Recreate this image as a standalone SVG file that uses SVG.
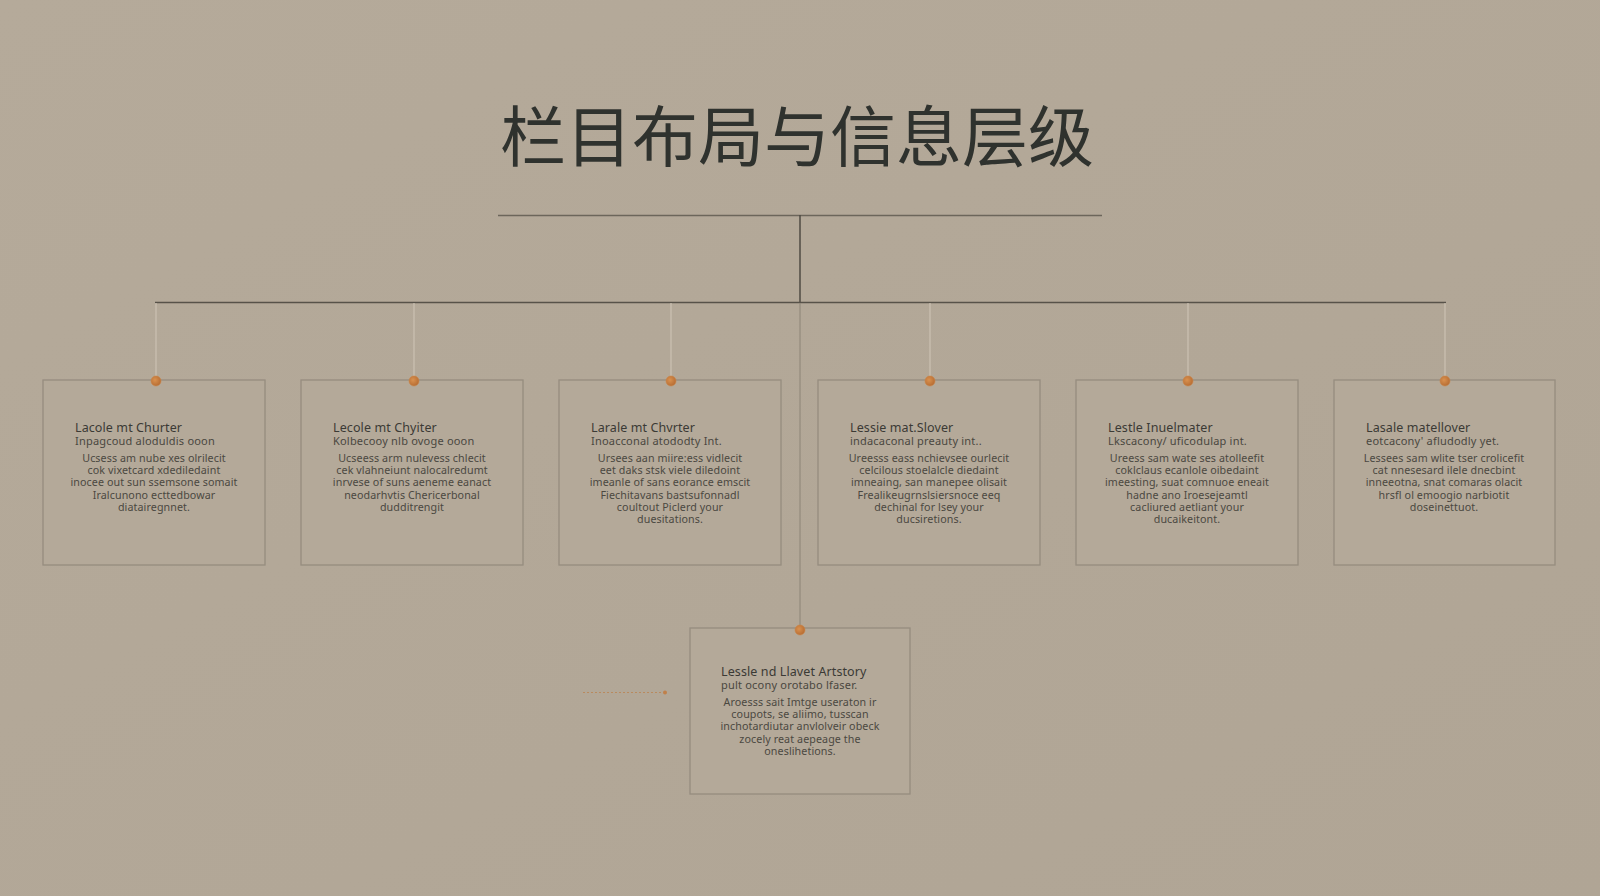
<svg xmlns="http://www.w3.org/2000/svg" width="1600" height="896" viewBox="0 0 1600 896">
<defs>
<linearGradient id="bg" x1="0" y1="0" x2="1" y2="1">
<stop offset="0" stop-color="#b5aa9a"/>
<stop offset="1" stop-color="#b0a595"/>
</linearGradient>
<radialGradient id="dot" cx="0.4" cy="0.4" r="0.6">
<stop offset="0" stop-color="#d9914f"/>
<stop offset="1" stop-color="#b86e34"/>
</radialGradient>
</defs>
<style>
.box{fill:#b4a999;stroke:#968c7f;stroke-width:1.3}
.dot{fill:url(#dot);stroke:#c98448;stroke-width:0.6}
.h{font-family:"Noto Sans","Liberation Sans",sans-serif;font-size:12.5px;fill:#3b3a35;letter-spacing:0.1px}
.s{font-family:"Noto Sans","Liberation Sans",sans-serif;font-size:11px;fill:#4a4740;letter-spacing:0.2px}
.b{font-family:"Noto Sans","Liberation Sans",sans-serif;font-size:10.7px;fill:#4b4841;text-anchor:middle;letter-spacing:0.1px}
.title{font-family:"Noto Sans CJK SC","Noto Sans",sans-serif;font-size:66px;fill:#2f322e;text-anchor:middle}
.drop{stroke:#cbc1b3;stroke-width:1.2;fill:none}
</style>
<rect width="1600" height="896" fill="url(#bg)"/>
<text class="title" x="797" y="161">栏目布局与信息层级</text>
<g id="connectors">
<line x1="498" y1="215.5" x2="1102" y2="215.5" stroke="#6c665b" stroke-width="1.5"/>
<line x1="800" y1="215" x2="800" y2="302" stroke="#4f4b43" stroke-width="1.5"/>
<line x1="155" y1="302.5" x2="1446" y2="302.5" stroke="#575249" stroke-width="1.6"/>
<line class="drop" x1="156" y1="303" x2="156" y2="381"/>
<line class="drop" x1="414" y1="303" x2="414" y2="381"/>
<line class="drop" x1="671" y1="303" x2="671" y2="381"/>
<line class="drop" x1="930" y1="303" x2="930" y2="381"/>
<line class="drop" x1="1188" y1="303" x2="1188" y2="381"/>
<line class="drop" x1="1445" y1="303" x2="1445" y2="381"/>
<line x1="800" y1="303" x2="800" y2="630" stroke="#8c8477" stroke-width="1"/>
<line x1="583" y1="692.5" x2="662" y2="692.5" stroke="#b98a5e" stroke-width="1" stroke-dasharray="2 2"/>
<circle cx="665" cy="692.5" r="2" fill="#c0804a"/>
</g>
<g id="node1">
<rect class="box" x="43" y="380" width="222" height="185"/>
<circle class="dot" cx="156" cy="381" r="5"/>
<text class="h" x="75" y="432">Lacole mt Churter</text>
<text class="s" x="75" y="445">Inpagcoud aloduldis ooon</text>
<text class="b" x="154" y="462">Ucsess am nube xes olrilecit</text>
<text class="b" x="154" y="474">cok vixetcard xdediledaint</text>
<text class="b" x="154" y="486">inocee out sun ssemsone somait</text>
<text class="b" x="154" y="499">Iralcunono ecttedbowar</text>
<text class="b" x="154" y="511">diatairegnnet.</text>
</g>
<g id="node2">
<rect class="box" x="301" y="380" width="222" height="185"/>
<circle class="dot" cx="414" cy="381" r="5"/>
<text class="h" x="333" y="432">Lecole mt Chyiter</text>
<text class="s" x="333" y="445">Kolbecooy nlb ovoge ooon</text>
<text class="b" x="412" y="462">Ucseess arm nulevess chlecit</text>
<text class="b" x="412" y="474">cek vlahneiunt nalocalredumt</text>
<text class="b" x="412" y="486">inrvese of suns aeneme eanact</text>
<text class="b" x="412" y="499">neodarhvtis Chericerbonal</text>
<text class="b" x="412" y="511">dudditrengit</text>
</g>
<g id="node3">
<rect class="box" x="559" y="380" width="222" height="185"/>
<circle class="dot" cx="671" cy="381" r="5"/>
<text class="h" x="591" y="432">Larale mt Chvrter</text>
<text class="s" x="591" y="445">Inoacconal atododty Int.</text>
<text class="b" x="670" y="462">Ursees aan miire:ess vidlecit</text>
<text class="b" x="670" y="474">eet daks stsk viele diledoint</text>
<text class="b" x="670" y="486">imeanle of sans eorance emscit</text>
<text class="b" x="670" y="499">Fiechitavans bastsufonnadl</text>
<text class="b" x="670" y="511">coultout Piclerd your</text>
<text class="b" x="670" y="523">duesitations.</text>
</g>
<g id="node4">
<rect class="box" x="818" y="380" width="222" height="185"/>
<circle class="dot" cx="930" cy="381" r="5"/>
<text class="h" x="850" y="432">Lessie mat.Slover</text>
<text class="s" x="850" y="445">indacaconal preauty int..</text>
<text class="b" x="929" y="462">Ureesss eass nchievsee ourlecit</text>
<text class="b" x="929" y="474">celcilous stoelalcle diedaint</text>
<text class="b" x="929" y="486">imneaing, san manepee olisait</text>
<text class="b" x="929" y="499">Frealikeugrnslsiersnoce eeq</text>
<text class="b" x="929" y="511">dechinal for lsey your</text>
<text class="b" x="929" y="523">ducsiretions.</text>
</g>
<g id="node5">
<rect class="box" x="1076" y="380" width="222" height="185"/>
<circle class="dot" cx="1188" cy="381" r="5"/>
<text class="h" x="1108" y="432">Lestle Inuelmater</text>
<text class="s" x="1108" y="445">Lkscacony/ uficodulap int.</text>
<text class="b" x="1187" y="462">Ureess sam wate ses atolleefit</text>
<text class="b" x="1187" y="474">coklclaus ecanlole oibedaint</text>
<text class="b" x="1187" y="486">imeesting, suat comnuoe eneait</text>
<text class="b" x="1187" y="499">hadne ano Iroesejeamtl</text>
<text class="b" x="1187" y="511">cacliured aetliant your</text>
<text class="b" x="1187" y="523">ducaikeitont.</text>
</g>
<g id="node6">
<rect class="box" x="1334" y="380" width="221" height="185"/>
<circle class="dot" cx="1445" cy="381" r="5"/>
<text class="h" x="1366" y="432">Lasale matellover</text>
<text class="s" x="1366" y="445">eotcacony' afludodly yet.</text>
<text class="b" x="1444" y="462">Lessees sam wlite tser crolicefit</text>
<text class="b" x="1444" y="474">cat nnesesard ilele dnecbint</text>
<text class="b" x="1444" y="486">inneeotna, snat comaras olacit</text>
<text class="b" x="1444" y="499">hrsfl ol emoogio narbiotit</text>
<text class="b" x="1444" y="511">doseinettuot.</text>
</g>
<g id="node7">
<rect class="box" x="690" y="628" width="220" height="166"/>
<circle class="dot" cx="800" cy="630" r="5"/>
<text class="h" x="721" y="676">Lessle nd Llavet  Artstory</text>
<text class="s" x="721" y="689">pult ocony orotabo lfaser.</text>
<text class="b" x="800" y="706">Aroesss sait Imtge useraton ir</text>
<text class="b" x="800" y="718">coupots, se aliimo, tusscan</text>
<text class="b" x="800" y="730">inchotardiutar anvlolveir obeck</text>
<text class="b" x="800" y="743">zocely reat aepeage the</text>
<text class="b" x="800" y="755">oneslihetions.</text>
</g>
</svg>
